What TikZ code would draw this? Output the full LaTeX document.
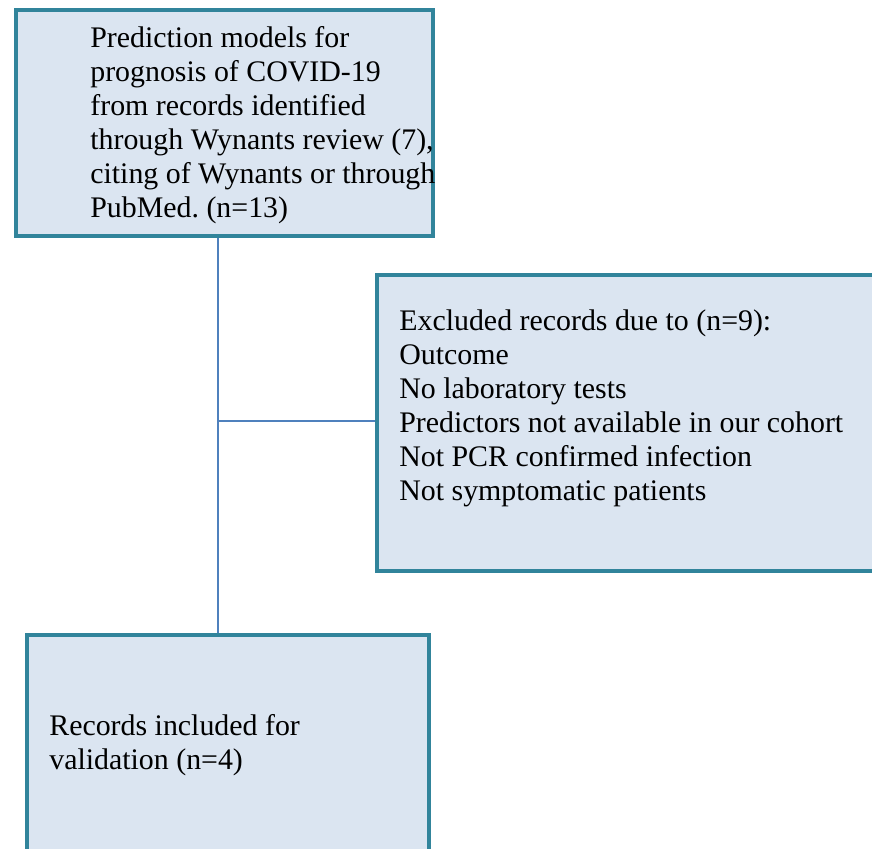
\documentclass[tikz,border=0pt]{standalone}
\usepackage{fontspec}
\setmainfont{Liberation Serif}
\usetikzlibrary{positioning}
\definecolor{boxline}{HTML}{31849B}
\definecolor{boxfill}{HTML}{DBE5F1}
\definecolor{linkblue}{HTML}{4F81BD}
\frenchspacing
\tikzset{box/.style={draw=boxline,fill=boxfill,line width=2.4pt,inner sep=0pt}, txt/.style={anchor=north west,align=left,inner sep=0pt,font=\fontsize{17}{19.4}\selectfont}, link/.style={draw=linkblue,line width=0.9pt}}
\begin{document}
\begin{tikzpicture}[x=1cm,y=1cm]
\clip (0,0) rectangle (17.44,-16.96);
\node[box,minimum width=8.34cm,minimum height=4.52cm] (models) at (4.49,-2.46) {};
\node[box,minimum width=10.26cm,minimum height=5.92cm] (excluded) at (12.67,-8.46) {};
\node[box,minimum width=8.04cm,minimum height=4.5cm] (included) at (4.56,-14.95) {};
\node[txt] (modelstxt) at (1.8,-0.52) {Prediction models for\\prognosis of COVID-19\\from records identified\\through Wynants review (7),\\citing of Wynants or through\\PubMed. (n=13)};
\node[txt] (excludedtxt) at (7.98,-6.18) {Excluded records due to (n=9):\\Outcome\\No laboratory tests\\Predictors not available in our cohort\\Not PCR confirmed infection\\Not symptomatic patients};
\node[txt] (includedtxt) at (0.98,-14.28) {Records included for\\validation (n=4)};
\coordinate (split) at (4.36,-8.42);
\draw[link] (models.south -| split)--(included.north -| split);
\draw[link] (split)--(split -| excluded.west);
\end{tikzpicture}
\end{document}
